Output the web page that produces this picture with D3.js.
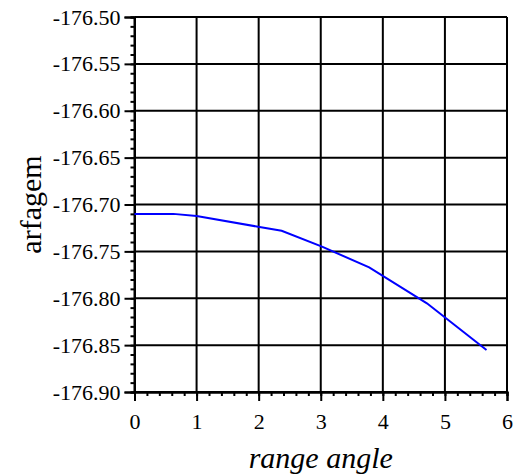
<!DOCTYPE html>
<html>
<head>
<meta charset="utf-8">
<script src="https://cdn.jsdelivr.net/npm/d3@7"></script>
<style>
  body { margin: 0; background: #fff; }
  .domain { stroke: #000; stroke-width: 2; }
  .tick line { stroke: #000; stroke-width: 2; }
</style>
</head>
<body>
<div id="chart"></div>
<script>
// values
const rangeAngle = [0, 0.625, 1.0, 1.99, 2.37, 3.02, 3.78, 4.71, 5.67]
const arfagem = [-176.710, -176.710, -176.7123, -176.7237, -176.728, -176.745, -176.767, -176.8054, -176.8552]
const xTicks = [0, 1, 2, 3, 4, 5, 6]
const yTicks = [-176.90, -176.85, -176.80, -176.75, -176.70, -176.65, -176.60, -176.55, -176.50]

const serif = '"Liberation Serif", "Times New Roman", serif'

const margin = { top: 17, right: 6, bottom: 84, left: 134.5 }
const width = 513 - margin.left - margin.right
const height = 476 - margin.top - margin.bottom

const svg = d3.select('#chart').append('svg')
    .attr('width', 513)
    .attr('height', 476)
    .append('g')
    .attr('transform', `translate(${margin.left}, ${margin.top})`)

const x = d3.scaleLinear().domain([0, 6]).range([0, width])
const y = d3.scaleLinear().domain([-176.90, -176.50]).range([height, 0])

// grid
svg.selectAll('vgrid').data(xTicks)
  .enter().append('line')
    .attr('x1', d => x(d)).attr('x2', d => x(d))
    .attr('y1', 0).attr('y2', height)
    .attr('stroke', 'black').attr('stroke-width', 2)

svg.selectAll('hgrid').data(yTicks)
  .enter().append('line')
    .attr('x1', 0).attr('x2', width)
    .attr('y1', d => y(d)).attr('y2', d => y(d))
    .attr('stroke', 'black').attr('stroke-width', 2)

// minor ticks
const xMinor = d3.range(0, 6.0001, 0.2)
const yMinor = d3.range(-176.90, -176.4999, 0.01)

svg.append('g')
    .attr('transform', `translate(0, ${height})`)
    .call(d3.axisBottom(x).tickValues(xMinor).tickSize(4).tickFormat(''))

svg.append('g')
    .call(d3.axisLeft(y).tickValues(yMinor).tickSize(4).tickFormat(''))

// major axes
const xAxis = svg.append('g')
    .attr('transform', `translate(0, ${height})`)
    .call(d3.axisBottom(x).tickValues(xTicks).tickSize(9).tickPadding(12).tickFormat(d3.format('d')))
xAxis.attr('font-family', serif).attr('font-size', 22)
xAxis.selectAll('text').attr('fill', '#000')

const yAxis = svg.append('g')
    .call(d3.axisLeft(y).tickValues(yTicks).tickSize(10).tickPadding(4).tickFormat(d3.format('.2f')))
yAxis.attr('font-family', serif).attr('font-size', 22)
yAxis.selectAll('text').attr('fill', '#000')
    .text(d => d3.format('.2f')(d).replace('−', '-'))

// the curve
const line = d3.line()
    .x((d, i) => x(rangeAngle[i]))
    .y(d => y(d))

svg.append('path')
    .datum(arfagem)
    .attr('fill', 'none')
    .attr('stroke', '#0000ff')
    .attr('stroke-width', 2)
    .attr('d', line)

// titles
svg.append('text')
    .attr('x', width / 2)
    .attr('y', height + 76)
    .attr('text-anchor', 'middle')
    .attr('font-family', serif)
    .attr('font-size', 30)
    .attr('font-style', 'italic')
    .text('range angle')

svg.append('text')
    .attr('transform', `translate(${41 - margin.left}, ${height / 2}) rotate(-90)`)
    .attr('text-anchor', 'middle')
    .attr('font-family', serif)
    .attr('font-size', 30)
    .text('arfagem')
</script>
</body>
</html>
